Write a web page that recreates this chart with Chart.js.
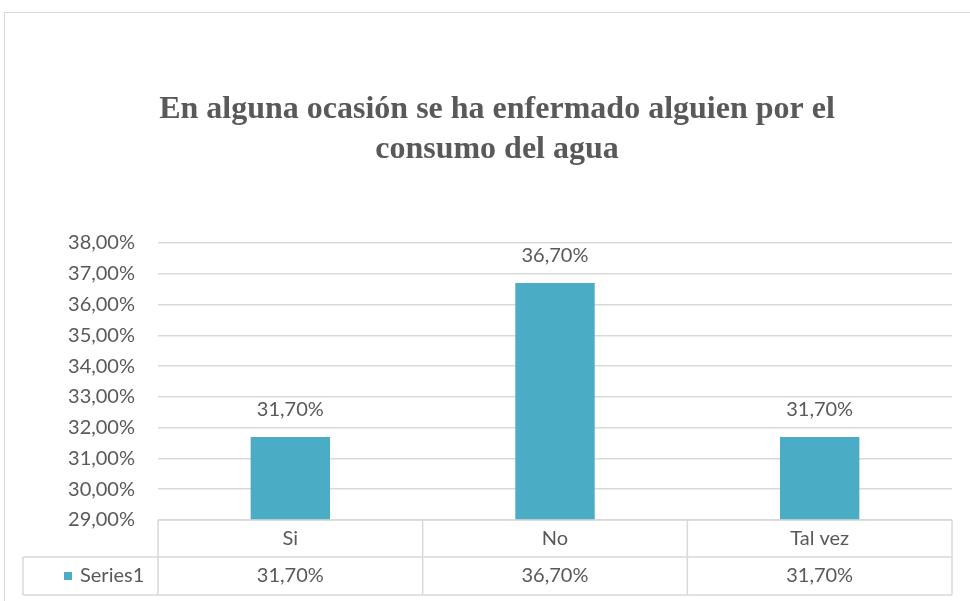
<!DOCTYPE html>
<html>
<head>
<meta charset="utf-8">
<script src="https://cdn.jsdelivr.net/npm/chart.js@4.4.1/dist/chart.umd.min.js"></script>
<style>
  html, body { margin: 0; padding: 0; background: #fff; }
  #wrap { width: 970px; height: 601px; }
</style>
</head>
<body>
<div id="wrap"><canvas id="myChart" width="970" height="601"></canvas></div>
<script>
// Datos
const categorias = ['Si', 'No', 'Tal vez'];
const valores = [31.7, 36.7, 31.7];
const nombreSerie = 'Series1';
const tituloLineas = ['En alguna ocasión se ha enfermado alguien por el', 'consumo del agua'];

const colorBarra = '#4BACC6';
const colorTexto = '#595959';
const colorLinea = '#d9d9d9';
const fuente = 'Lato, "Open Sans", sans-serif';

const fmt = v => v.toFixed(2).replace('.', ',') + '%';

// Marco, título, etiquetas de datos y tabla de datos
const extras = {
    id: 'extras',
    beforeDraw(chart) {
        const c = chart.ctx;
        c.save();
        c.strokeStyle = colorLinea;
        c.lineWidth = 1;
        c.strokeRect(4.5, 12.5, 1100, 700);
        // título (centrado en el marco del gráfico)
        c.font = 'bold 32px "Liberation Serif", "Times New Roman", serif';
        c.fillStyle = colorTexto;
        c.textAlign = 'center';
        c.textBaseline = 'middle';
        tituloLineas.forEach((t, i) => c.fillText(t, 497, 110 + i * 40));
        c.restore();
    },
    afterDatasetsDraw(chart) {
        const c = chart.ctx;
        const meta = chart.getDatasetMeta(0);
        c.save();
        c.font = '20px ' + fuente;
        c.textAlign = 'center';
        c.textBaseline = 'middle';
        meta.data.forEach((bar, i) => {
            const txt = fmt(valores[i]);
            const w = c.measureText(txt).width + 8;
            const y = bar.y - 27;
            c.fillStyle = '#fff';
            c.fillRect(bar.x - w / 2, y - 12, w, 24);
            c.fillStyle = colorTexto;
            c.fillText(txt, bar.x, y);
        });
        c.restore();
    },
    afterDraw(chart) {
        const c = chart.ctx;
        const a = chart.chartArea;
        const xs = chart.scales.x;
        const n = categorias.length;
        const paso = (a.right - a.left) / n;
        const fila1 = a.bottom + 37;
        const fila2 = a.bottom + 75;
        const izq = 23;
        c.save();
        c.strokeStyle = colorLinea;
        c.lineWidth = 1.5;
        c.beginPath();
        c.moveTo(a.left, a.bottom); c.lineTo(a.right, a.bottom);
        c.moveTo(izq, fila1); c.lineTo(a.right, fila1);
        c.moveTo(izq, fila2); c.lineTo(a.right, fila2);
        c.moveTo(izq, fila1); c.lineTo(izq, fila2);
        for (let i = 0; i <= n; i++) {
            const x = a.left + paso * i;
            c.moveTo(x, a.bottom); c.lineTo(x, fila2);
        }
        c.stroke();

        c.font = '20px ' + fuente;
        c.textBaseline = 'middle';
        c.textAlign = 'center';
        c.fillStyle = colorTexto;
        categorias.forEach((cat, i) => {
            const x = xs.getPixelForValue(i);
            c.fillText(cat, x, (a.bottom + fila1) / 2);
            c.fillText(fmt(valores[i]), x, (fila1 + fila2) / 2);
        });
        // leyenda
        c.fillStyle = colorBarra;
        c.fillRect(64, (fila1 + fila2) / 2 - 4, 8, 8);
        c.fillStyle = colorTexto;
        c.textAlign = 'left';
        c.fillText(nombreSerie, 80, (fila1 + fila2) / 2);
        c.restore();
    }
};

const ctx = document.getElementById('myChart').getContext('2d');
const myChart = new Chart(ctx, {
    type: 'bar',
    data: {
        labels: categorias,
        datasets: [{
            label: nombreSerie,
            data: valores,
            backgroundColor: colorBarra,
            barPercentage: 0.3,
            categoryPercentage: 1
        }]
    },
    options: {
        responsive: false,
        animation: false,
        layout: { padding: { top: 243, bottom: 81, left: 0, right: 18 } },
        scales: {
            x: { display: false },
            y: {
                min: 29,
                max: 38,
                border: { display: false },
                grid: { color: colorLinea, lineWidth: 1.5, drawTicks: false },
                afterFit(scale) { scale.width = 158; },
                ticks: {
                    stepSize: 1,
                    padding: 23,
                    color: colorTexto,
                    font: { family: fuente, size: 20 },
                    callback: v => fmt(v)
                }
            }
        },
        plugins: {
            legend: { display: false },
            tooltip: { enabled: false },
            title: { display: false }
        }
    },
    plugins: [extras]
});
</script>
</body>
</html>
